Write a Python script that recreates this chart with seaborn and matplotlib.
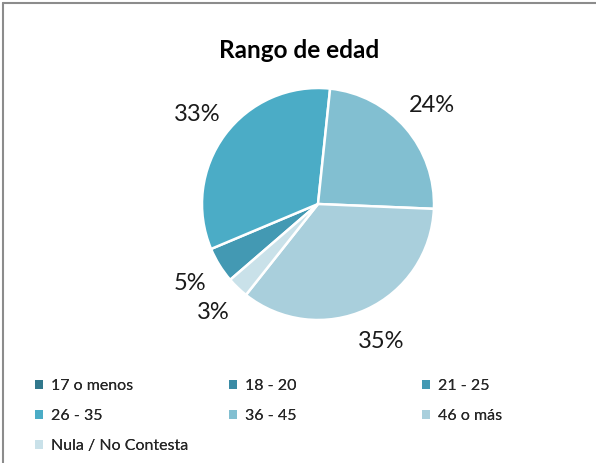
import matplotlib

matplotlib.use("Agg")
import matplotlib.pyplot as plt
import seaborn as sns
from matplotlib.lines import Line2D
from matplotlib.patches import Patch

# data
categories = ["17 o menos", "18 - 20", "21 - 25", "26 - 35", "36 - 45", "46 o más", "Nula / No Contesta"]
shares = [0, 0, 5, 33, 24, 35, 3]
colors = ["#31788c", "#3a8ba5", "#4399b3", "#4bacc6", "#82bfd1", "#a9cfdc", "#c9e1e9"]
title = "Rango de edad"

sns.set_theme(style="white")
plt.rcParams["font.family"] = ["Lato", "DejaVu Sans"]

W, H = 596, 463
fig = plt.figure(figsize=(W / 100, H / 100), dpi=100)
fig.patch.set_facecolor("white")

# pie centre (318, 204) px, radius 116 px
cx, cy, r = 318, 204, 116
ax = fig.add_axes([(cx - r) / W, (H - cy - r) / H, 2 * r / W, 2 * r / H])
ax.pie(
    shares,
    colors=colors,
    startangle=220.8,
    counterclock=False,
    autopct=lambda p: f"{p:.0f}%" if p > 0.5 else "",
    pctdistance=1.3,
    textprops={"fontsize": 17, "color": "#1a1a1a"},
    wedgeprops={"edgecolor": "white", "linewidth": 1.8},
)
ax.set_xlim(-1, 1)
ax.set_ylim(-1, 1)
ax.set_aspect("equal")
ax.axis("off")

fig.text(299 / W, 1 - 50 / H, title, ha="center", va="center", fontsize=17.5, fontweight="bold", color="black")

# legend: 3 evenly spaced columns, filled row by row
ncol = 3
col_x = [33, 227, 420]
for c in range(ncol):
    idx = list(range(c, len(categories), ncol))
    leg = fig.legend(
        [Patch(facecolor=colors[i], edgecolor="none") for i in idx],
        [categories[i] for i in idx],
        loc="upper left",
        bbox_to_anchor=(col_x[c] / W, 1 - 377 / H),
        frameon=False,
        fontsize=11.5,
        handlelength=0.5,
        handleheight=0.5,
        handletextpad=0.45,
        labelspacing=1.0,
        borderaxespad=0,
        borderpad=0.15,
    )
    fig.add_artist(leg)

# chart frame (top and left edges are visible in the crop)
fig.add_artist(Line2D([3 / W, 1], [1 - 3 / H, 1 - 3 / H], color="#8c8c8c", linewidth=1.5))
fig.add_artist(Line2D([3 / W, 3 / W], [0, 1 - 3 / H], color="#8c8c8c", linewidth=1.5))

fig.savefig("out.png", dpi=100, facecolor="white")
